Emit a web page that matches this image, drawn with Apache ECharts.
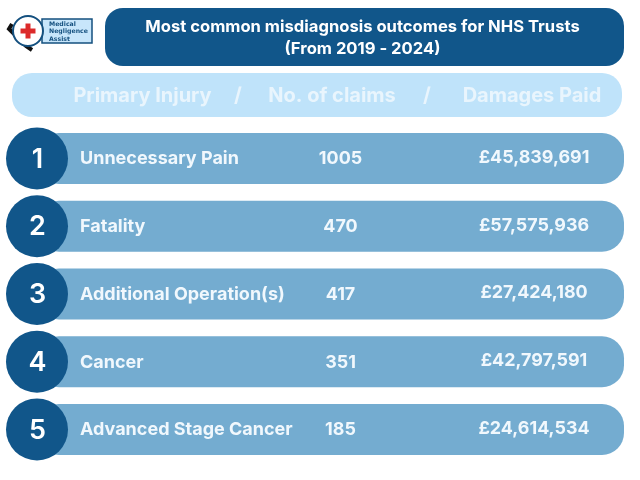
<!DOCTYPE html>
<html>
<head>
<meta charset="utf-8">
<style>html,body{margin:0;padding:0;background:#fff}#main{width:640px;height:480px}</style>
<script src="https://cdn.jsdelivr.net/npm/echarts@6/dist/echarts.min.js"></script>
</head>
<body>
<div id="main"></div>
<script>
const ranks = ['1', '2', '3', '4', '5'];
const injuries = ['Unnecessary Pain', 'Fatality', 'Additional Operation(s)', 'Cancer', 'Advanced Stage Cancer'];
const claims = [1005, 470, 417, 351, 185];
const damages = ['£45,839,691', '£57,575,936', '£27,424,180', '£42,797,591', '£24,614,534'];
const titleLines = 'Most common misdiagnosis outcomes for NHS Trusts\n(From 2019 - 2024)';
const headers = ['Primary Injury', '/', 'No. of claims', '/', 'Damages Paid'];

const DARK = '#11568a', MID = '#74acd0', LIGHT = '#bfe3fa', FONT = 'Inter, "Open Sans", sans-serif';

const chart = echarts.init(document.getElementById('main'), null, { renderer: 'canvas' });

function txt(x, y, text, size, align, fill, weight) {
  return {
    type: 'text', x, y,
    style: { text, fill: fill || '#f1f8fd', font: (weight || 700) + ' ' + size + 'px ' + FONT, align: align || 'left', verticalAlign: 'middle' }
  };
}

// one row: pill, circle with the rank, then the three columns
function renderRow(params, api) {
  const i = api.value(0);
  const y = api.coord([0, i])[1];
  return {
    type: 'group',
    children: [
      { type: 'rect', shape: { x: 37, y: y - 25.5, width: 587, height: 51, r: 22 }, style: { fill: MID } },
      { type: 'circle', shape: { cx: 37, cy: y, r: 31 }, style: { fill: DARK } },
      txt(37.5, y + 1, ranks[i], 27, 'center', '#ffffff', 600),
      txt(80, y + 0.5, injuries[i], 18, 'left'),
      txt(340.5, y + 0.5, String(claims[i]), 17.9, 'center'),
      txt(534, y - 1, damages[i], 17.9, 'center')
    ]
  };
}

const headerX = [142.5, 238, 332, 427, 532];

chart.setOption({
  animation: false,
  backgroundColor: '#ffffff',
  grid: { left: 0, right: 0, top: 124.6, height: 338.75 },
  xAxis: { type: 'value', show: false, min: 0, max: 640 },
  yAxis: { type: 'category', show: false, inverse: true, data: injuries },
  graphic: [
    // logo
    { type: 'rect', shape: { x: 42, y: 19, width: 50, height: 24 }, style: { fill: '#c8e6fb', stroke: '#14507f', lineWidth: 1.5 } },
    { type: 'polyline', shape: { points: [[12, 24], [9, 29], [26, 46], [32, 50]] }, style: { stroke: '#111', fill: null, lineWidth: 4 } },
    { type: 'circle', shape: { cx: 28, cy: 31, r: 15 }, style: { fill: '#fff', stroke: '#14507f', lineWidth: 2 } },
    { type: 'rect', shape: { x: 20.5, y: 28.5, width: 15, height: 5 }, style: { fill: '#dc2a2a' } },
    { type: 'rect', shape: { x: 25.5, y: 23.5, width: 5, height: 15 }, style: { fill: '#dc2a2a' } },
    { type: 'text', x: 49, y: 20.5, style: { text: 'Medical\nNegligence\nAssist', fill: '#14507f', font: '700 6.2px "DejaVu Sans", sans-serif', lineHeight: 7.5 } },
    // title bar
    { type: 'rect', shape: { x: 105, y: 8, width: 519, height: 58, r: 18 }, style: { fill: DARK } },
    { type: 'text', x: 362.5, y: 38, style: { text: titleLines, fill: '#ffffff', font: '700 16.6px ' + FONT, align: 'center', verticalAlign: 'middle', lineHeight: 22 } },
    // header strip
    { type: 'rect', shape: { x: 12, y: 73, width: 610, height: 44, r: 20 }, style: { fill: LIGHT } },
    ...headers.map((h, i) => txt(headerX[i], 95.5, h, 20, 'center', '#e9f5fd'))
  ],
  series: [{
    type: 'custom',
    coordinateSystem: 'cartesian2d',
    renderItem: renderRow,
    encode: { y: 0 },
    data: injuries.map((_, i) => [i])
  }]
});
</script>
</body>
</html>
